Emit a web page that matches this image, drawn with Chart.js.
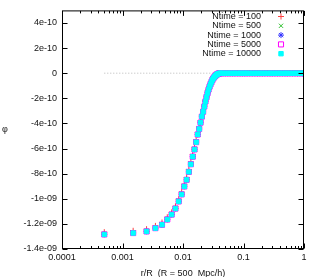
<!DOCTYPE html>
<html>
<head>
<meta charset="utf-8">
<script src="https://cdn.jsdelivr.net/npm/chart.js@4.4.0/dist/chart.umd.min.js"></script>
<style>html,body{margin:0;padding:0;background:#fff}</style>
</head>
<body>
<canvas id="phi" width="312" height="277"></canvas>
<script>
// r/R bins where the potential still varies
const rCurve = [0.0005, 0.0015, 0.0025, 0.0035, 0.0045, 0.0055, 0.0065, 0.0075, 0.0085, 0.0095,
  0.0105, 0.0115, 0.0125, 0.0135, 0.0145, 0.0155, 0.0165, 0.0175, 0.0185, 0.0195,
  0.0205, 0.0215, 0.0225, 0.0235, 0.0245, 0.0255, 0.0265, 0.0275, 0.0285, 0.0295,
  0.0305, 0.0315, 0.0325, 0.0335, 0.0345, 0.0355, 0.0365, 0.0375, 0.0385, 0.0395, 0.0405];
// flat part (phi = 0 out to r/R = 1)
const rTail = [0.042, 0.046, 0.05, 0.055, 0.06, 0.066, 0.072, 0.08, 0.088, 0.096, 0.105, 0.115,
  0.127, 0.14, 0.154, 0.17, 0.187, 0.205, 0.225, 0.25, 0.275, 0.3, 0.33, 0.365, 0.4, 0.44,
  0.485, 0.53, 0.585, 0.645, 0.71, 0.78, 0.86, 0.94, 0.9995];
const tailPhi = 0;

const phi100 = [-1.266e-9, -1.255e-9, -1.242e-9, -1.216e-9, -1.189e-9, -1.147e-9, -1.108e-9, -1.060e-9, -1.003e-9, -0.947e-9,
  -0.884e-9, -0.831e-9, -0.768e-9, -0.707e-9, -0.647e-9, -0.590e-9, -0.533e-9, -0.473e-9, -0.430e-9, -0.381e-9,
  -0.334e-9, -0.296e-9, -0.256e-9, -0.217e-9, -0.183e-9, -0.152e-9, -0.125e-9, -0.103e-9, -0.084e-9, -0.068e-9,
  -0.053e-9, -0.041e-9, -0.033e-9, -0.025e-9, -0.019e-9, -0.014e-9, -0.010e-9, -0.006e-9, -0.004e-9, -0.002e-9, -0.001e-9];
const phi500 = [-1.282e-9, -1.271e-9, -1.258e-9, -1.232e-9, -1.205e-9, -1.163e-9, -1.124e-9, -1.076e-9, -1.019e-9, -0.963e-9,
  -0.900e-9, -0.847e-9, -0.784e-9, -0.723e-9, -0.663e-9, -0.605e-9, -0.547e-9, -0.487e-9, -0.443e-9, -0.393e-9,
  -0.345e-9, -0.306e-9, -0.264e-9, -0.224e-9, -0.189e-9, -0.157e-9, -0.129e-9, -0.106e-9, -0.086e-9, -0.070e-9,
  -0.054e-9, -0.043e-9, -0.034e-9, -0.026e-9, -0.020e-9, -0.014e-9, -0.010e-9, -0.006e-9, -0.004e-9, -0.002e-9, -0.001e-9];
const phi1000 = [-1.283e-9, -1.272e-9, -1.259e-9, -1.233e-9, -1.206e-9, -1.164e-9, -1.125e-9, -1.077e-9, -1.020e-9, -0.964e-9,
  -0.901e-9, -0.848e-9, -0.785e-9, -0.724e-9, -0.664e-9, -0.606e-9, -0.548e-9, -0.488e-9, -0.444e-9, -0.394e-9,
  -0.346e-9, -0.307e-9, -0.265e-9, -0.225e-9, -0.190e-9, -0.158e-9, -0.130e-9, -0.107e-9, -0.087e-9, -0.071e-9,
  -0.055e-9, -0.043e-9, -0.034e-9, -0.026e-9, -0.020e-9, -0.014e-9, -0.010e-9, -0.006e-9, -0.004e-9, -0.002e-9, -0.001e-9];
const phi5000 = [-1.284e-9, -1.273e-9, -1.260e-9, -1.234e-9, -1.207e-9, -1.165e-9, -1.126e-9, -1.078e-9, -1.021e-9, -0.965e-9,
  -0.902e-9, -0.849e-9, -0.786e-9, -0.725e-9, -0.665e-9, -0.607e-9, -0.549e-9, -0.488e-9, -0.444e-9, -0.394e-9,
  -0.346e-9, -0.307e-9, -0.265e-9, -0.225e-9, -0.190e-9, -0.158e-9, -0.130e-9, -0.107e-9, -0.087e-9, -0.071e-9,
  -0.055e-9, -0.043e-9, -0.034e-9, -0.026e-9, -0.020e-9, -0.014e-9, -0.010e-9, -0.006e-9, -0.004e-9, -0.002e-9, -0.001e-9];
const phi10000 = [-1.284e-9, -1.273e-9, -1.260e-9, -1.234e-9, -1.207e-9, -1.165e-9, -1.126e-9, -1.078e-9, -1.021e-9, -0.965e-9,
  -0.902e-9, -0.849e-9, -0.786e-9, -0.725e-9, -0.665e-9, -0.607e-9, -0.549e-9, -0.488e-9, -0.444e-9, -0.394e-9,
  -0.346e-9, -0.307e-9, -0.265e-9, -0.225e-9, -0.190e-9, -0.158e-9, -0.130e-9, -0.107e-9, -0.087e-9, -0.071e-9,
  -0.055e-9, -0.043e-9, -0.034e-9, -0.026e-9, -0.020e-9, -0.014e-9, -0.010e-9, -0.006e-9, -0.004e-9, -0.002e-9, -0.001e-9];

const seriesLabels = ['Ntime = 100', 'Ntime = 500', 'Ntime = 1000', 'Ntime = 5000', 'Ntime = 10000'];

const xTicks = [0.0001, 0.001, 0.01, 0.1, 1];
const xTickLabels = ['0.0001', '0.001', '0.01', '0.1', '1'];
const yTicks = [-1.4e-9, -1.2e-9, -1e-9, -8e-10, -6e-10, -4e-10, -2e-10, 0, 2e-10, 4e-10];
const yTickLabels = ['-1.4e-09', '-1.2e-09', '-1e-09', '-8e-10', '-6e-10', '-4e-10', '-2e-10', '0', '2e-10', '4e-10'];

const pts = ys => rCurve.map((r, i) => ({ x: r, y: ys[i] }))
  .concat(rTail.map(r => ({ x: r, y: tailPhi })));

Chart.defaults.font.family = '"Liberation Sans", Arial, sans-serif';
Chart.defaults.font.size = 9;
Chart.defaults.color = '#111';

const marks = [
  { pointStyle: 'cross',    radius: 3,   color: '#ff4040', fill: 'transparent' },
  { pointStyle: 'crossRot', radius: 3,   color: '#30c030', fill: 'transparent' },
  { pointStyle: 'star',     radius: 3,   color: '#3030ff', fill: 'transparent' },
  { pointStyle: 'rect',     radius: 3.6, color: '#ff00ff', fill: 'transparent' },
  { pointStyle: 'rect',     radius: 3.1, color: '#00ffff', fill: '#00ffff' }
];

const gnuplotFrame = {
  id: 'gnuplotFrame',
  afterDraw(chart) {
    const { ctx, chartArea: a, scales: { x, y } } = chart;
    ctx.save();
    ctx.strokeStyle = '#000';
    ctx.lineWidth = 1;
    const L = a.left + 0.5, R = a.right - 0.5, T = a.top + 0.5, B = a.bottom - 0.5;
    ctx.strokeRect(L, T, R - L, B - T);
    ctx.beginPath();
    yTicks.forEach(v => {
      const py = Math.round(y.getPixelForValue(v)) + 0.5;
      ctx.moveTo(L, py); ctx.lineTo(L + 5, py);
      ctx.moveTo(R, py); ctx.lineTo(R - 5, py);
    });
    xTicks.forEach((v, i) => {
      const px = Math.round(x.getPixelForValue(v)) + 0.5;
      ctx.moveTo(px, B); ctx.lineTo(px, B - 5);
      ctx.moveTo(px, T); ctx.lineTo(px, T + 5);
      if (i < xTicks.length - 1) {
        for (let k = 2; k < 10; k++) {
          const mx = Math.round(x.getPixelForValue(v * k)) + 0.5;
          ctx.moveTo(mx, B); ctx.lineTo(mx, B - 2.5);
          ctx.moveTo(mx, T); ctx.lineTo(mx, T + 2.5);
        }
      }
    });
    ctx.stroke();

    // y label
    ctx.fillStyle = '#111';
    ctx.font = '9px "Liberation Sans", Arial, sans-serif';
    ctx.textAlign = 'center';
    ctx.textBaseline = 'middle';
    ctx.fillText('φ', 5, (a.top + a.bottom) / 2);

    // key, gnuplot style: text then marker, top right inside the frame
    seriesLabels.forEach((lab, i) => {
      const ly = 16.5 + i * 9.3;
      ctx.fillStyle = '#111';
      ctx.textAlign = 'right';
      ctx.fillText(lab, a.right - 43, ly);
      const m = marks[i];
      ctx.fillStyle = m.fill;
      ctx.strokeStyle = m.color;
      Chart.helpers.drawPoint(ctx, { pointStyle: m.pointStyle, radius: m.radius, rotation: 0, borderWidth: 1 }, a.right - 23, ly);
    });
    ctx.restore();
  }
};

const datasets = [{
  data: [{ x: rCurve[0], y: 0 }, { x: 1, y: 0 }],
  showLine: true, borderColor: '#b8b8b8', borderWidth: 1, borderDash: [1, 2],
  pointRadius: 0, order: 10
}].concat([phi100, phi500, phi1000, phi5000, phi10000].map((ys, i) => ({
  label: seriesLabels[i],
  data: pts(ys),
  order: 5 - i,
  pointStyle: marks[i].pointStyle,
  pointRadius: marks[i].radius,
  pointBorderWidth: 1,
  borderColor: marks[i].color,
  backgroundColor: marks[i].fill,
  showLine: false
})));

new Chart(document.getElementById('phi'), {
  type: 'scatter',
  data: { datasets },
  options: {
    responsive: false,
    animation: false,
    layout: { padding: { left: 0, right: 8, top: 7, bottom: 0 } },
    plugins: { legend: { display: false }, tooltip: { enabled: false } },
    scales: {
      x: {
        type: 'logarithmic', min: 0.0001, max: 1,
        grid: { display: false, drawTicks: false },
        border: { display: false },
        afterBuildTicks: s => { s.ticks = xTicks.map(v => ({ value: v })); },
        afterFit: s => { s.height = 28; },
        ticks: { autoSkip: false, maxRotation: 0, padding: 3,
          callback: (v, i) => xTickLabels[i] },
        title: { display: true, text: 'r/R  (R = 500  Mpc/h)', padding: { top: 0, bottom: -2 } }
      },
      y: {
        min: -1.4e-9, max: 5e-10,
        grid: { display: false, drawTicks: false },
        border: { display: false },
        afterBuildTicks: s => { s.ticks = yTicks.map(v => ({ value: v })); },
        afterFit: s => { s.width = 62; },
        ticks: { autoSkip: false, padding: 5, callback: (v, i) => yTickLabels[i] }
      }
    }
  },
  plugins: [gnuplotFrame]
});
</script>
</body>
</html>
